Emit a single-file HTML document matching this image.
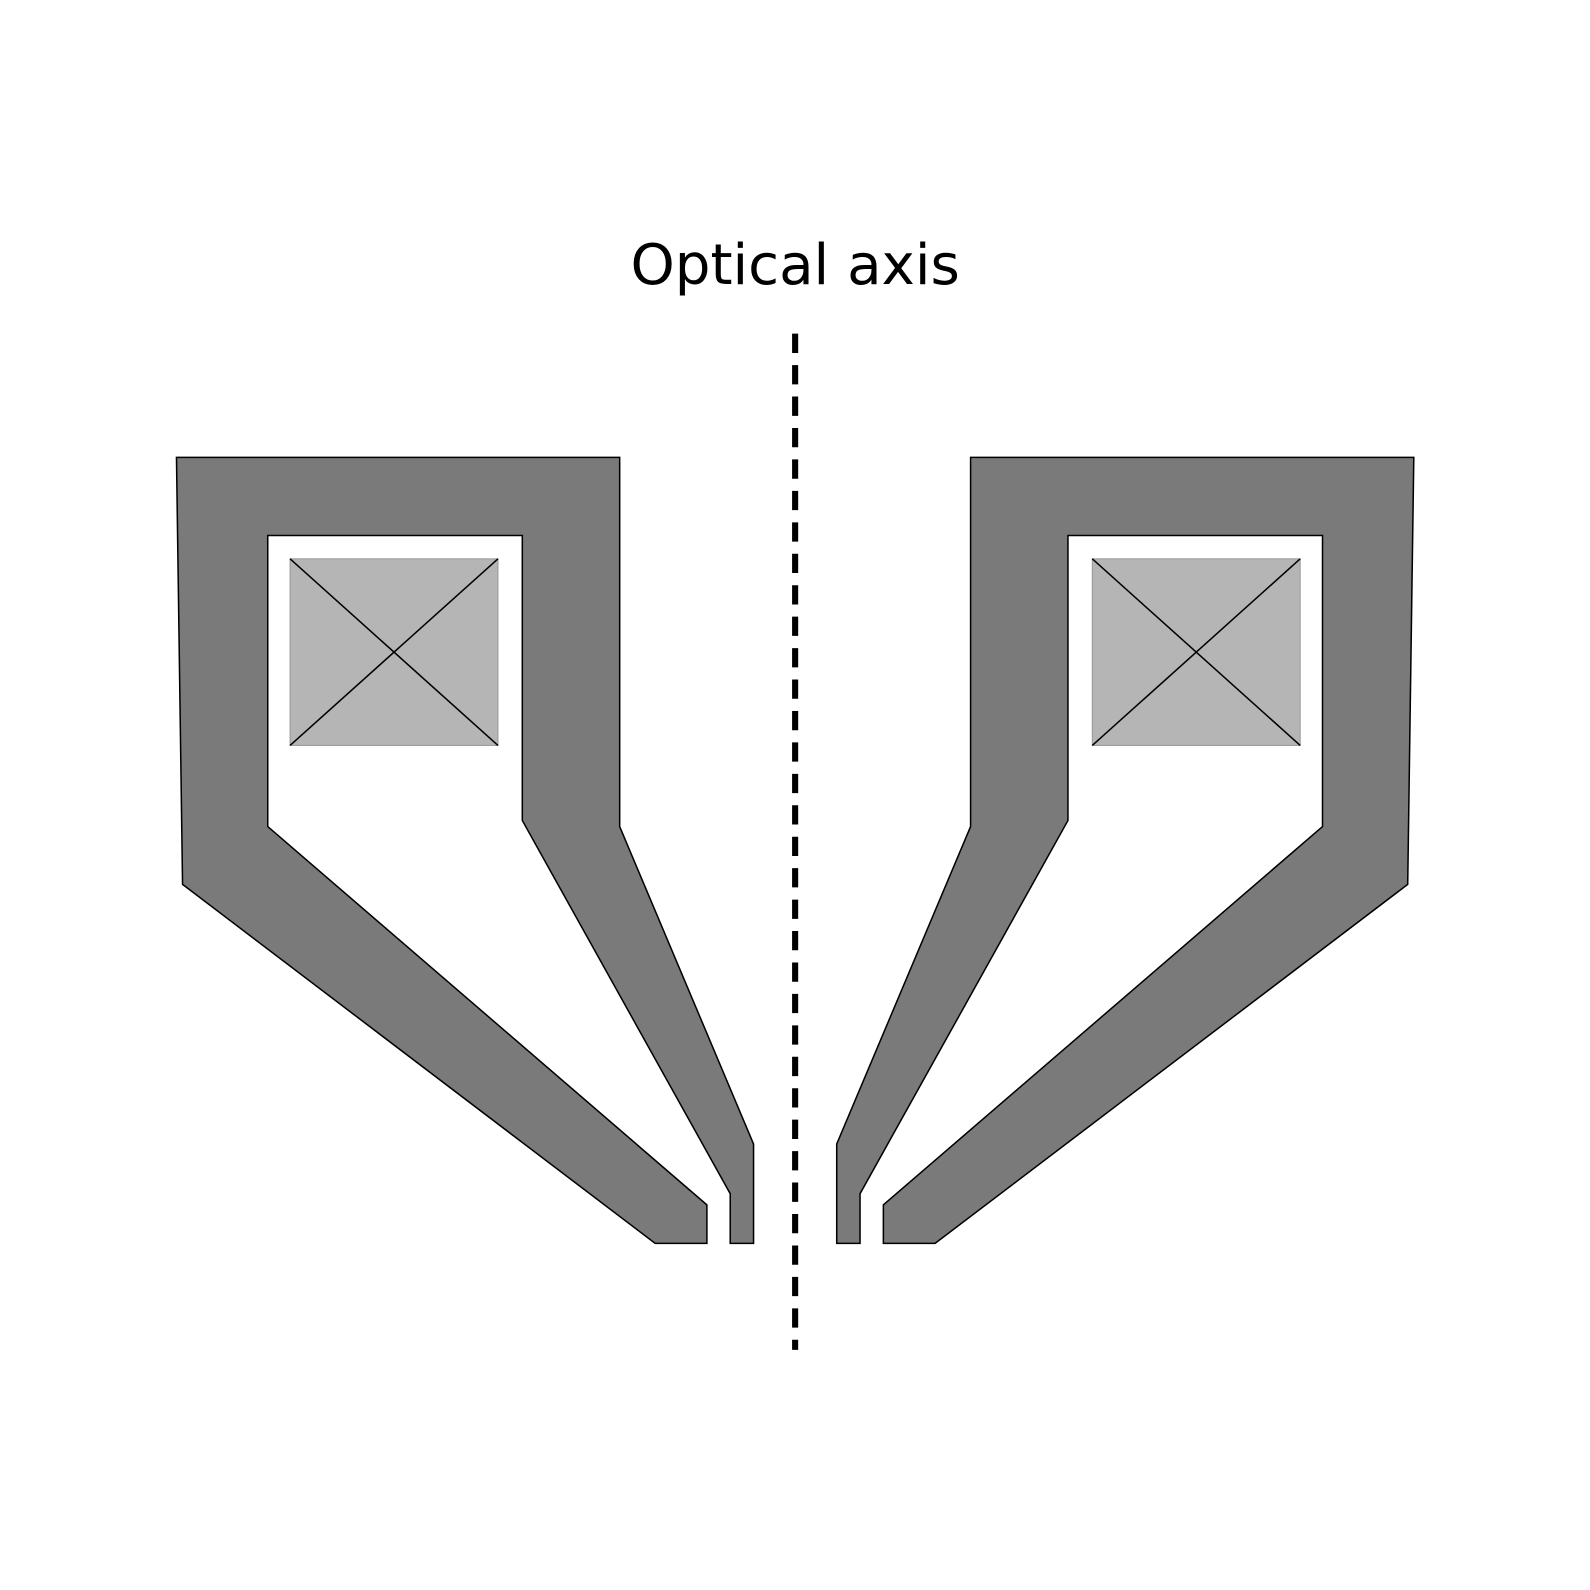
<!DOCTYPE html>
<html><head><meta charset="utf-8"><style>
html,body{margin:0;padding:0;background:#fff;}
svg{display:block;}
</style></head><body>
<svg width="1590" height="1590" viewBox="0 0 1590 1590" xmlns="http://www.w3.org/2000/svg">
<rect width="1590" height="1590" fill="#fff"/>
<g transform="scale(1.0142)">
<text x="784" y="280" text-anchor="middle" font-family="DejaVu Sans, Liberation Sans, sans-serif" font-size="55.5" fill="#000">Optical axis</text>
<line x1="784" y1="329" x2="784" y2="1331" stroke="#000" stroke-width="6" stroke-dasharray="19 12"/>
<g>
<path d="M174,451 L611,451 L611,815 L743,1128 L743,1226 L720,1226 L720,1177 L515,809 L515,528 L264,528 L264,815 L697,1188 L697,1226 L646,1226 L180,872 Z" fill="#7a7a7a" stroke="#000" stroke-width="1.5"/>
<rect x="286" y="551" width="205" height="184" fill="#b5b5b5" stroke="#999" stroke-width="1"/>
<line x1="286" y1="551" x2="491" y2="735" stroke="#000" stroke-width="1.5"/>
<line x1="286" y1="735" x2="491" y2="551" stroke="#000" stroke-width="1.5"/>
</g>
<g transform="translate(1568,0) scale(-1,1)">
<path d="M174,451 L611,451 L611,815 L743,1128 L743,1226 L720,1226 L720,1177 L515,809 L515,528 L264,528 L264,815 L697,1188 L697,1226 L646,1226 L180,872 Z" fill="#7a7a7a" stroke="#000" stroke-width="1.5"/>
<rect x="286" y="551" width="205" height="184" fill="#b5b5b5" stroke="#999" stroke-width="1"/>
<line x1="286" y1="551" x2="491" y2="735" stroke="#000" stroke-width="1.5"/>
<line x1="286" y1="735" x2="491" y2="551" stroke="#000" stroke-width="1.5"/>
</g>
</g>
</svg>
</body></html>
